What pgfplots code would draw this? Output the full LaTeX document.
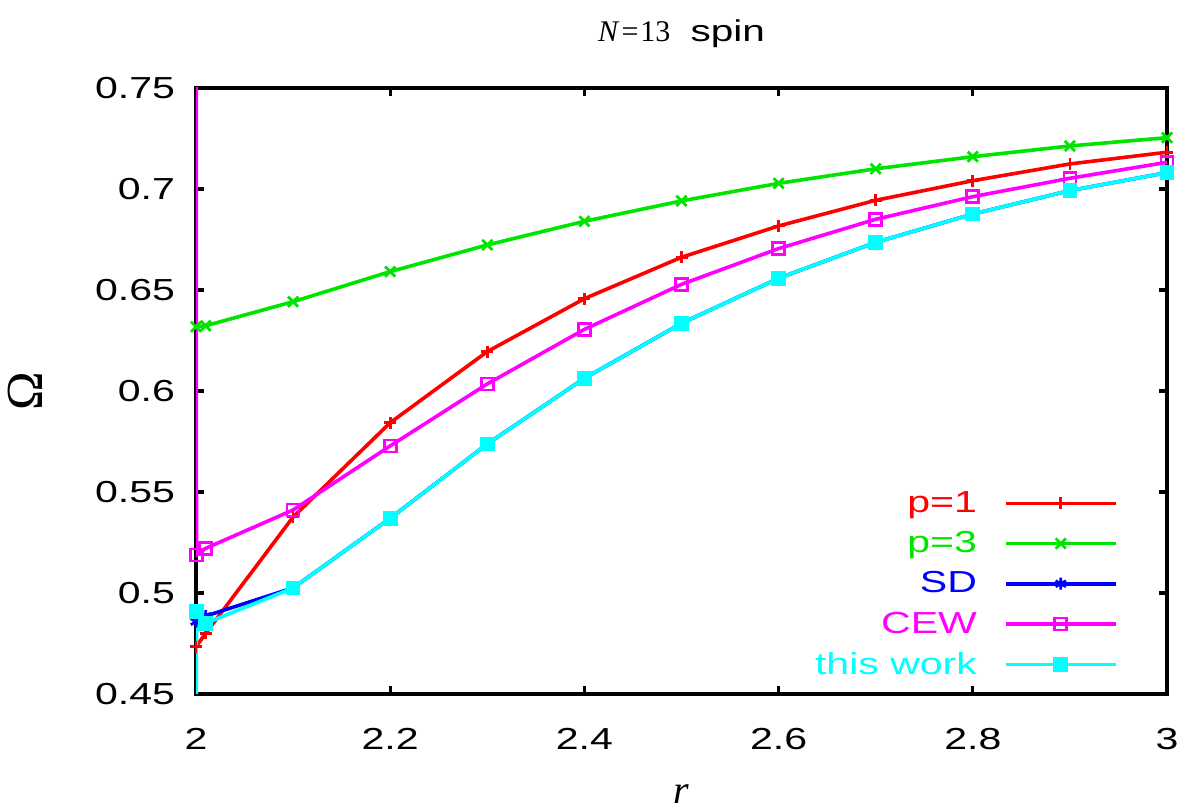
\documentclass[border=0pt]{standalone}
\usepackage{fontspec}
\setmainfont{Liberation Sans}
\newfontfamily\wide{Liberation Sans}[FakeStretch=1.35]
\newfontfamily\serif{Liberation Serif}
\usepackage{pgfplots}
\pgfplotsset{compat=1.18}
\usetikzlibrary{calc}
\definecolor{cR}{rgb}{1,0,0}
\definecolor{cG}{rgb}{0,0.9,0}
\definecolor{cB}{rgb}{0,0,1}
\definecolor{cM}{rgb}{1,0,1}
\definecolor{cC}{rgb}{0,1,1}
\begin{document}
\begin{tikzpicture}
\begin{axis}[name=ax, scale only axis, width=485.5pt, height=303pt,
  xmin=2, xmax=3, ymin=0.45, ymax=0.75,
  xtick={2,2.2,2.4,2.6,2.8,3},
  ytick={0.45,0.5,0.55,0.6,0.65,0.7,0.75},
  /pgf/number format/assume math mode=true,
  tick align=inside, major tick length=4pt,
  axis line style={line width=1.6pt},
  major tick style={line width=1.6pt, black},
  ticklabel style={font=\wide\fontsize{15.2}{18}\selectfont},
  xticklabel style={yshift=-13.5pt},
  yticklabel style={xshift=-7pt},
  xlabel={\serif\itshape r},
  xlabel style={font=\fontsize{20}{24}\selectfont, at={(axis description cs:0.5,0)}, anchor=center, yshift=-50pt},
  ylabel={\serif Ω},
  ylabel style={font=\fontsize{26}{30}\selectfont, at={(axis description cs:0,0.5)}, anchor=center, yshift=85.5pt, inner sep=1pt},
  title={{\serif\fontsize{15}{18}\selectfont\itshape N\/\upshape\kern1pt=\kern1pt13}\hspace{10pt}{\wide\fontsize{15}{17}\selectfont spin}},
  title style={at={(axis description cs:0.5,1)}, anchor=center, yshift=21pt},
  legend plot pos=right,
  legend style={at={(0.9495,0.181)}, anchor=east, draw=none, fill=none,
    font=\wide\fontsize{15.2}{18}\selectfont, inner sep=0pt,
    nodes={inner sep=0.5pt}, column sep=13pt, row sep=7pt},
  legend cell align=right,
  legend image code/.code={\draw[mark repeat=2,mark phase=2,#1] plot coordinates {(0pt,0pt)(27.5pt,0pt)(55pt,0pt)};},
  every axis plot/.append style={line width=1.8pt, mark size=3pt, mark options={solid, line width=1.4pt}},
]
\addplot[cR, mark=+] coordinates {(2.0,0.4734) (2.01,0.4800) (2.1,0.5376) (2.2,0.5843) (2.3,0.6195) (2.4,0.6457) (2.5,0.6662) (2.6,0.6817) (2.7,0.6944) (2.8,0.7041) (2.9,0.7124) (3.0,0.7182)};
\addlegendentry{\textcolor{cR}{p=1}}
\addplot[cG, mark=x, mark size=3.6pt] coordinates {(2.0,0.6318) (2.01,0.6323) (2.1,0.6442) (2.2,0.6591) (2.3,0.6723) (2.4,0.6840) (2.5,0.6941) (2.6,0.7028) (2.7,0.7100) (2.8,0.7160) (2.9,0.7213) (3.0,0.7254)};
\addlegendentry{\textcolor{cG}{p=3}}
\addplot[cB, mark=asterisk] coordinates {(2.0,0.4858) (2.01,0.4886) (2.1,0.5025) (2.2,0.5370) (2.3,0.5738) (2.4,0.6063) (2.5,0.6335) (2.6,0.6558) (2.7,0.6736) (2.8,0.6876) (2.9,0.6992) (3.0,0.7081)};
\addlegendentry{\textcolor{cB}{SD}}
\addplot[cM, mark=square] coordinates {(2.0,0.95) (2.0005,0.5188) (2.01,0.5221) (2.1,0.5411) (2.2,0.5728) (2.3,0.6035) (2.4,0.6305) (2.5,0.6528) (2.6,0.6705) (2.7,0.6850) (2.8,0.6962) (2.9,0.7053) (3.0,0.7132)};
\addlegendentry{\textcolor{cM}{CEW}}
\addplot[cC, mark=square*] coordinates {(2.0,0.30) (2.0005,0.4907) (2.01,0.4850) (2.1,0.5025) (2.2,0.5370) (2.3,0.5738) (2.4,0.6063) (2.5,0.6335) (2.6,0.6558) (2.7,0.6736) (2.8,0.6876) (2.9,0.6992) (3.0,0.7081)};
\addlegendentry{\textcolor{cC}{this work}}
\end{axis}
\pgfresetboundingbox
\path[use as bounding box] ($(ax.south west)+(-98pt,-59pt)$) rectangle ($(ax.north east)+(10.5pt,44pt)$);
\end{tikzpicture}
\end{document}
